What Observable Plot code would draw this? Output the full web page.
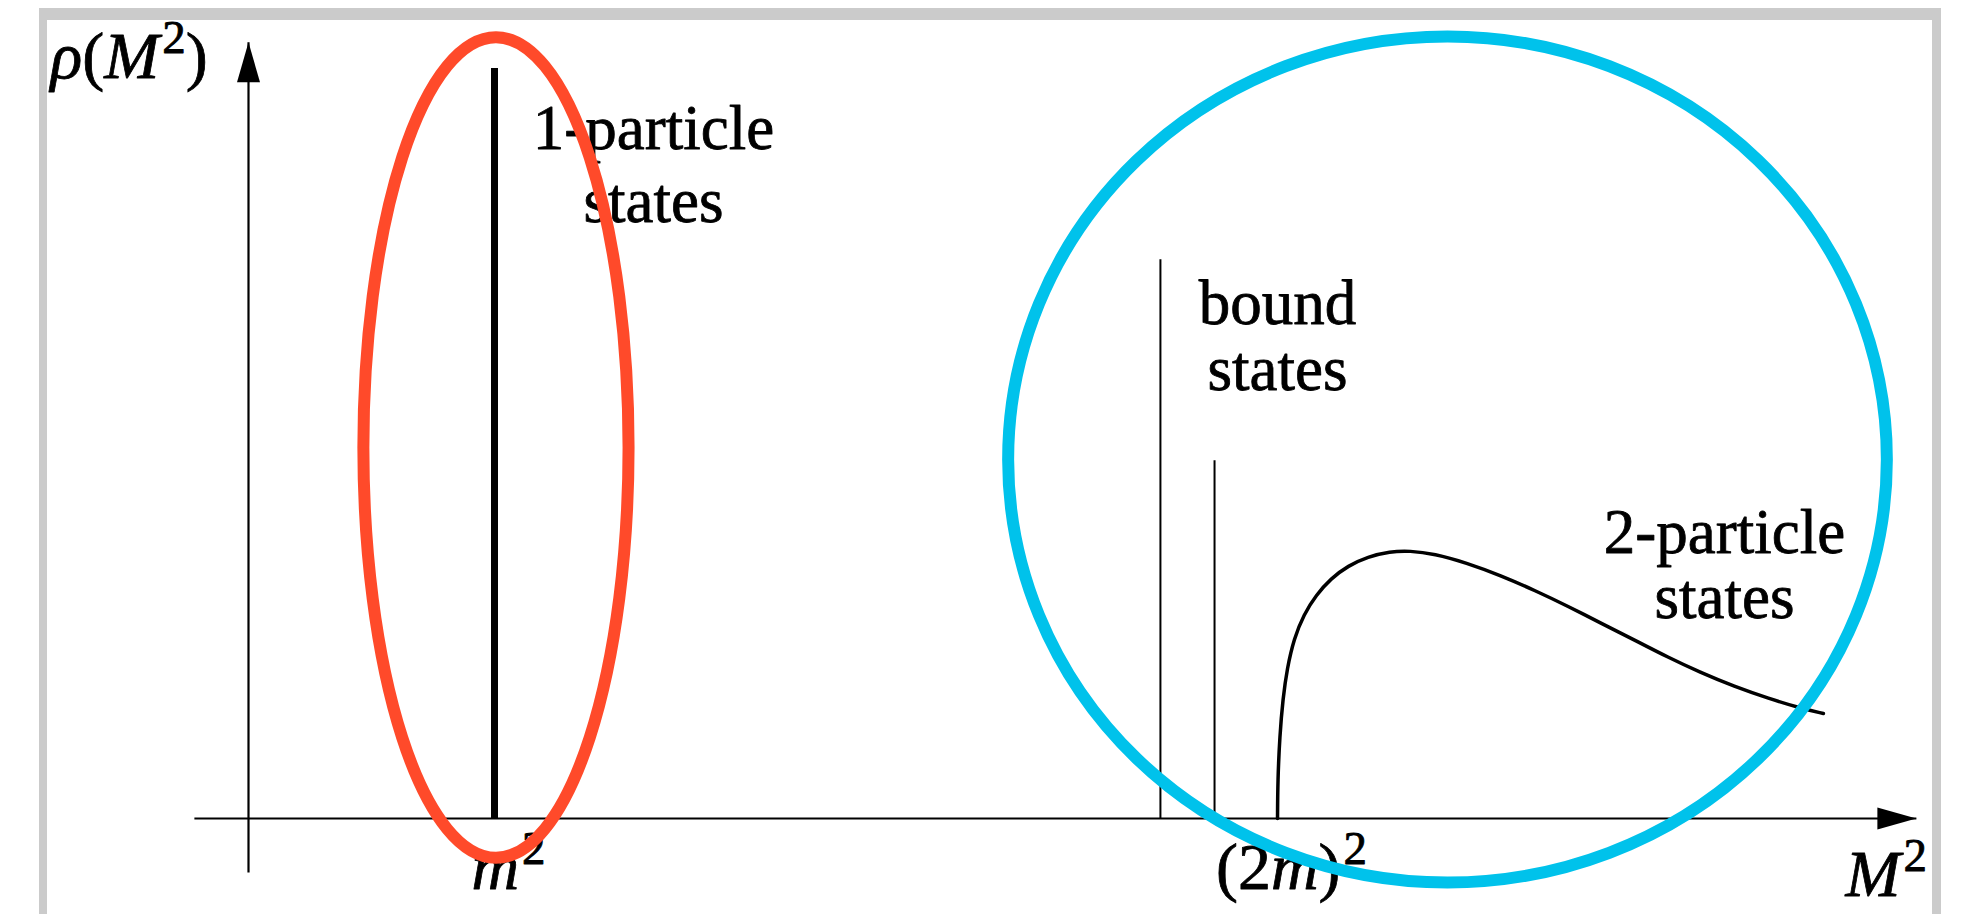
<!DOCTYPE html>
<html>
<head>
<meta charset="utf-8">
<script src="https://cdn.jsdelivr.net/npm/d3@7"></script>
<script src="https://cdn.jsdelivr.net/npm/@observablehq/plot@0.6"></script>
<style>
  html, body { margin: 0; padding: 0; background: #ffffff; }
  #stage { position: relative; width: 1962px; height: 914px; overflow: hidden; }
  #frame {
    position: absolute; left: 39px; top: 8px; width: 1885px; height: 906px;
    border-top: 12px solid #cbcbcb; border-left: 8px solid #cbcbcb; border-right: 9px solid #cbcbcb;
    box-sizing: content-box;
  }
  #stage svg { position: absolute; left: 0; top: 0; }
</style>
</head>
<body>
<div id="stage"><div id="frame"></div></div>
<script>
// Spectral density ρ(M²) of an interacting theory (schematic, arbitrary units).

// Axis extents
const xAxisExtent = [-0.22, 6.78];   // M² axis
const yAxisExtent = [-0.072, 1.035]; // ρ axis

// Tick positions on the M² axis
const tickNames = ["m^2", "(2m)^2"];
const tickValues = [1.0, 4.183];

// Isolated one-particle pole (delta function)
const oneParticleX = [1.0];
const oneParticleRho = [1.0];

// Bound-state poles below the two-particle threshold
const boundX = [3.707, 3.927];
const boundRho = [0.745, 0.477];

// Two-particle continuum starting at the threshold (2m)²
const contX = [4.183, 4.184, 4.192, 4.205, 4.222, 4.250, 4.290, 4.340, 4.400, 4.470,
  4.550, 4.640, 4.720, 4.820, 4.950, 5.090, 5.230, 5.370, 5.500, 5.640,
  5.770, 5.900, 6.040, 6.180, 6.310, 6.402];
const contRho = [0.000, 0.050, 0.110, 0.160, 0.200, 0.240, 0.272, 0.298, 0.320, 0.337,
  0.349, 0.356, 0.357, 0.353, 0.341, 0.324, 0.304, 0.282, 0.260, 0.237,
  0.215, 0.195, 0.176, 0.160, 0.147, 0.140];

// Highlight rings: centre and half-widths in data units
const ringNames = ["single particle", "multi particle"];
const ringCx = [1.008, 4.876];
const ringCy = [0.494, 0.478];
const ringRx = [0.539, 1.786];
const ringRy = [0.547, 0.564];
const ringColors = ["#ff4a2a", "#00c2eb"];

// Region labels
const labelText = ["1-particle\nstates", "bound\nstates", "2-particle\nstates"];
const labelX = [1.646, 4.183, 6.0];
const labelRho = [0.795, 0.572, 0.268];
const labelLead = [1.16, 1.04, 1.03];

const FONT = "'Liberation Serif', 'DejaVu Serif', serif";
const SIZE = 63;

const axisLines = [
  {x1: xAxisExtent[0], x2: xAxisExtent[1], y1: 0, y2: 0},
  {x1: 0, x2: 0, y1: yAxisExtent[0], y2: yAxisExtent[1]}
];
const spike = oneParticleX.map((x, i) => ({x, rho: oneParticleRho[i]}));
const bound = boundX.map((x, i) => ({x, rho: boundRho[i]}));
const continuum = contX.map((x, i) => ({x, rho: contRho[i]}));
const ticks = tickNames.map((t, i) => ({t, x: tickValues[i]}));

// Filled arrowheads, tip at the anchor point
const arrowUp = {draw(ctx) { ctx.moveTo(0, 0); ctx.lineTo(11.5, 40); ctx.lineTo(-11.5, 40); ctx.closePath(); }};
const arrowRight = {draw(ctx) { ctx.moveTo(0, 0); ctx.lineTo(-39, 11); ctx.lineTo(-39, -11); ctx.closePath(); }};

const mathLabels = ["ρ(M^2)", "M^2", ...tickNames];

// Serif text, lightly stroked for a printed look
const ink = {fontFamily: FONT, fontSize: SIZE, fill: "#000", stroke: "#000", strokeWidth: 0.8};

const plot = Plot.plot({
  width: 1962,
  height: 914,
  margin: 0,
  style: {background: "transparent", overflow: "visible"},
  x: {domain: [0, 1], range: [248, 494], axis: null},
  y: {domain: [0, 1], range: [818, 68], axis: null},
  marks: [
    // axes
    Plot.link(axisLines, {x1: "x1", x2: "x2", y1: "y1", y2: "y2", stroke: "#000", strokeWidth: 2.2}),
    Plot.dot([{x: 0, rho: yAxisExtent[1]}], {x: "x", y: "rho", symbol: arrowUp, fill: "#000", stroke: "none", r: 10}),
    Plot.dot([{x: xAxisExtent[1], rho: 0}], {x: "x", y: "rho", symbol: arrowRight, fill: "#000", stroke: "none", r: 10}),
    // one-particle delta function
    Plot.ruleX(spike, {x: "x", y1: () => 0, y2: "rho", stroke: "#000", strokeWidth: 7}),
    // bound states
    Plot.ruleX(bound, {x: "x", y1: () => 0, y2: "rho", stroke: "#000", strokeWidth: 2}),
    // two-particle continuum
    Plot.line(continuum, {x: "x", y: "rho", curve: "basis", stroke: "#000", strokeWidth: 3.5}),
    // region labels, one mark each so every label keeps its own leading
    ...labelText.map((t, i) => Plot.text([{t, x: labelX[i], rho: labelRho[i]}], {
      x: "x", y: "rho", text: "t", textAnchor: "middle", lineAnchor: "bottom",
      lineHeight: labelLead[i], ...ink
    })),
    // axis names and tick labels
    Plot.text([{t: "ρ(M^2)", x: -0.805, rho: 0.988}], {x: "x", y: "rho", text: "t", textAnchor: "start",
      lineAnchor: "bottom", ...ink, fontSize: 66}),
    Plot.text([{t: "M^2", x: 6.492, rho: -0.103}], {x: "x", y: "rho", text: "t", textAnchor: "start",
      lineAnchor: "bottom", ...ink, fontSize: 66}),
    Plot.text(ticks, {x: "x", y: () => -0.094, text: "t", textAnchor: "middle", dx: 14,
      lineAnchor: "bottom", ...ink, fontSize: 66})
  ]
});

// Typeset simple math: letters italic, digits/brackets upright, ^x as superscript
const svgNS = "http://www.w3.org/2000/svg";
function typeset(el, src) {
  el.textContent = "";
  const shift = 25;
  let raised = false;
  for (let i = 0; i < src.length; i++) {
    let ch = src[i];
    const t = document.createElementNS(svgNS, "tspan");
    if (ch === "^") {
      ch = src[++i];
      t.setAttribute("font-size", 47);
      t.setAttribute("font-style", "normal");
      t.setAttribute("dy", -shift);
      t.setAttribute("dx", 3);
      raised = true;
    } else {
      if (raised) { t.setAttribute("dy", shift); raised = false; }
      t.setAttribute("font-style", /\p{L}/u.test(ch) ? "italic" : "normal");
    }
    t.textContent = ch;
    el.appendChild(t);
  }
}
d3.select(plot).selectAll("text").each(function () {
  const s = this.textContent;
  if (mathLabels.includes(s)) typeset(this, s);
});

// Highlight rings drawn with the plot's own scales
const sx = plot.scale("x").apply, sy = plot.scale("y").apply;
const ringLayer = d3.select(plot).append("g").attr("aria-label", "highlight rings");
ringNames.forEach((name, i) => {
  ringLayer.append("ellipse")
    .attr("cx", sx(ringCx[i]))
    .attr("cy", sy(ringCy[i]))
    .attr("rx", Math.abs(sx(ringCx[i] + ringRx[i]) - sx(ringCx[i])))
    .attr("ry", Math.abs(sy(ringCy[i] + ringRy[i]) - sy(ringCy[i])))
    .attr("fill", "none")
    .attr("stroke", ringColors[i])
    .attr("stroke-width", 12)
    .append("title").text(name);
});

document.getElementById("stage").appendChild(plot);
</script>
</body>
</html>
